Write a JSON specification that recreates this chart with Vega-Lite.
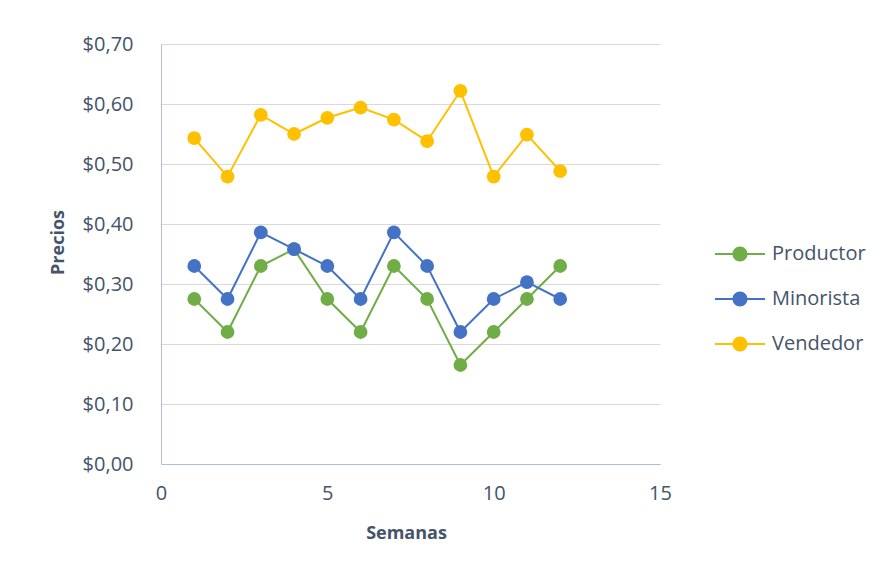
{
  "$schema": "https://vega.github.io/schema/vega-lite/v6.json",
  "width": 499,
  "height": 420,
  "autosize": {"type": "none"},
  "padding": {"left": 161, "top": 44, "right": 226, "bottom": 107},
  "background": "white",
  "config": {
    "view": {"stroke": null},
    "font": "Open Sans",
    "axis": {
      "labelFont": "Open Sans",
      "labelColor": "#44546A",
      "labelFontSize": 20,
      "titleFont": "Open Sans",
      "titleColor": "#44546A",
      "titleFontSize": 18,
      "titleFontWeight": "bold",
      "ticks": false,
      "domainColor": "#B0BDD3",
      "gridColor": "#D9D9D9",
      "gridWidth": 1
    },
    "legend": {
      "labelFont": "Open Sans",
      "labelColor": "#44546A",
      "labelFontSize": 20
    }
  },
  "data": {
    "values": [
      {"semana": 1, "serie": "Productor", "precio": 0.275},
      {"semana": 2, "serie": "Productor", "precio": 0.22},
      {"semana": 3, "serie": "Productor", "precio": 0.33},
      {"semana": 4, "serie": "Productor", "precio": 0.358},
      {"semana": 5, "serie": "Productor", "precio": 0.275},
      {"semana": 6, "serie": "Productor", "precio": 0.22},
      {"semana": 7, "serie": "Productor", "precio": 0.33},
      {"semana": 8, "serie": "Productor", "precio": 0.275},
      {"semana": 9, "serie": "Productor", "precio": 0.165},
      {"semana": 10, "serie": "Productor", "precio": 0.22},
      {"semana": 11, "serie": "Productor", "precio": 0.275},
      {"semana": 12, "serie": "Productor", "precio": 0.33},
      {"semana": 1, "serie": "Minorista", "precio": 0.33},
      {"semana": 2, "serie": "Minorista", "precio": 0.275},
      {"semana": 3, "serie": "Minorista", "precio": 0.386},
      {"semana": 4, "serie": "Minorista", "precio": 0.358},
      {"semana": 5, "serie": "Minorista", "precio": 0.33},
      {"semana": 6, "serie": "Minorista", "precio": 0.275},
      {"semana": 7, "serie": "Minorista", "precio": 0.386},
      {"semana": 8, "serie": "Minorista", "precio": 0.33},
      {"semana": 9, "serie": "Minorista", "precio": 0.22},
      {"semana": 10, "serie": "Minorista", "precio": 0.275},
      {"semana": 11, "serie": "Minorista", "precio": 0.303},
      {"semana": 12, "serie": "Minorista", "precio": 0.275},
      {"semana": 1, "serie": "Vendedor", "precio": 0.543},
      {"semana": 2, "serie": "Vendedor", "precio": 0.479},
      {"semana": 3, "serie": "Vendedor", "precio": 0.582},
      {"semana": 4, "serie": "Vendedor", "precio": 0.55},
      {"semana": 5, "serie": "Vendedor", "precio": 0.577},
      {"semana": 6, "serie": "Vendedor", "precio": 0.594},
      {"semana": 7, "serie": "Vendedor", "precio": 0.574},
      {"semana": 8, "serie": "Vendedor", "precio": 0.538},
      {"semana": 9, "serie": "Vendedor", "precio": 0.622},
      {"semana": 10, "serie": "Vendedor", "precio": 0.479},
      {"semana": 11, "serie": "Vendedor", "precio": 0.549},
      {"semana": 12, "serie": "Vendedor", "precio": 0.488}
    ]
  },
  "encoding": {
    "x": {
      "field": "semana",
      "type": "quantitative",
      "scale": {"domain": [0, 15], "nice": false},
      "axis": {
        "values": [0, 5, 10, 15],
        "grid": false,
        "labelFlush": false,
        "title": "Semanas",
        "labelPadding": 19,
        "titleX": 245,
        "titleY": 69,
        "titleBaseline": "middle",
        "titleAlign": "center"
      }
    },
    "y": {
      "field": "precio",
      "type": "quantitative",
      "scale": {"domain": [0, 0.7], "nice": false},
      "axis": {
        "values": [0, 0.1, 0.2, 0.3, 0.4, 0.5, 0.6, 0.7],
        "labelExpr": "'$' + replace(format(datum.value, '.2f'), '.', ',')",
        "labelPadding": 28,
        "title": "Precios",
        "titleX": -103,
        "titleY": 198,
        "titleAngle": -90,
        "titleBaseline": "middle",
        "titleAlign": "center"
      }
    }
  },
  "layer": [
    {
      "mark": {"type": "line", "strokeWidth": 2},
      "encoding": {
        "color": {
          "field": "serie",
          "type": "nominal",
          "sort": ["Productor", "Minorista", "Vendedor"],
          "scale": {
            "domain": ["Productor", "Minorista", "Vendedor"],
            "range": ["#70AD47", "#4472C4", "#FFC000"]
          },
          "legend": null
        }
      }
    },
    {
      "mark": {"type": "point", "filled": true, "opacity": 1, "size": 190},
      "encoding": {
        "color": {
          "field": "serie",
          "type": "nominal",
          "sort": ["Productor", "Minorista", "Vendedor"],
          "scale": {
            "domain": ["Productor", "Minorista", "Vendedor"],
            "range": ["#70AD47", "#4472C4", "#FFC000"]
          },
          "legend": {
            "title": null,
            "orient": "none",
            "legendX": 554,
            "legendY": 185,
            "padding": 0,
            "symbolType": "M-1,-0.04L1,-0.04L1,0.04L-1,0.04Z M0.3,0A0.3,0.3,0,1,1,-0.3,0A0.3,0.3,0,1,1,0.3,0Z",
            "symbolSize": 2500,
            "symbolStrokeWidth": 0,
            "symbolOpacity": 1,
            "labelOffset": 7,
            "rowPadding": 10
          }
        }
      }
    }
  ],
  "resolve": {"legend": {"color": "independent"}}
}
